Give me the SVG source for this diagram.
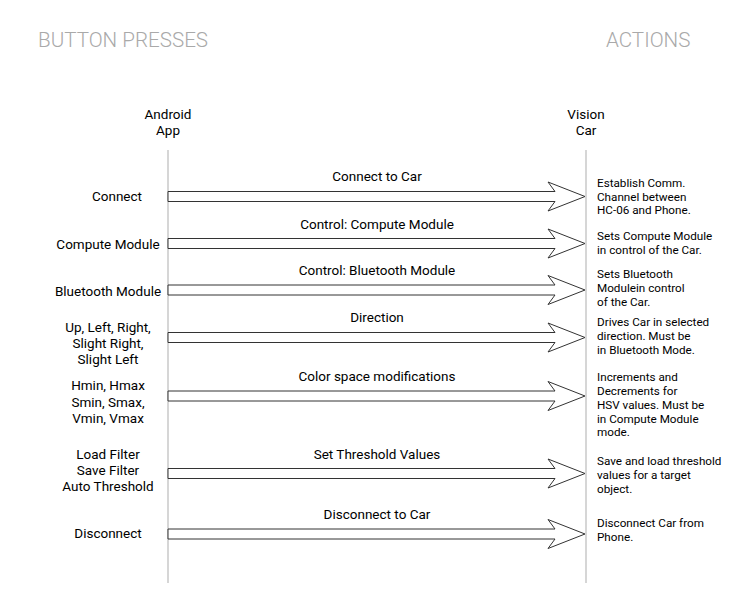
<svg xmlns="http://www.w3.org/2000/svg" width="754" height="599" viewBox="0 0 754 599">
<style>
.title{font-family:Roboto,"Liberation Sans",sans-serif;font-weight:300;font-size:20.6px;fill:#a9a9a9}
.hdr{font-family:Roboto,"Liberation Sans",sans-serif;font-size:13.5px;fill:#000;text-anchor:middle}
.lbl{font-family:Roboto,"Liberation Sans",sans-serif;font-size:13.5px;fill:#000;text-anchor:middle}
.act{font-family:Roboto,"Liberation Sans",sans-serif;font-size:11.7px;fill:#000}
.life{stroke:#cccccc;stroke-width:1.6;fill:none}
.arrow{fill:#ffffff;stroke:#333333;stroke-width:1}
</style>
<rect width="754" height="599" fill="#ffffff"/>
<g id="titles">
<text class="title" x="38" y="47">BUTTON PRESSES</text>
<text class="title" x="606" y="47">ACTIONS</text>
</g>
<g id="android-app">
<text class="hdr" x="168" y="119">Android</text>
<text class="hdr" x="168" y="135">App</text>
<line class="life" x1="168" y1="150" x2="168" y2="583"/>
</g>
<g id="vision-car">
<text class="hdr" x="586" y="119">Vision</text>
<text class="hdr" x="586" y="135">Car</text>
<line class="life" x1="586" y1="150" x2="586" y2="583"/>
</g>
<g id="buttons">
<text class="lbl" x="117" y="201">Connect</text>
<text class="lbl" x="108" y="249">Compute Module</text>
<text class="lbl" x="108" y="296">Bluetooth Module</text>
<text class="lbl" x="108" y="332">Up, Left, Right,</text>
<text class="lbl" x="108" y="348">Slight Right,</text>
<text class="lbl" x="108" y="364">Slight Left</text>
<text class="lbl" x="108" y="390">Hmin, Hmax</text>
<text class="lbl" x="108" y="406.5">Smin, Smax,</text>
<text class="lbl" x="108" y="422.5">Vmin, Vmax</text>
<text class="lbl" x="108" y="458.5">Load Filter</text>
<text class="lbl" x="108" y="474.5">Save Filter</text>
<text class="lbl" x="108" y="490.5">Auto Threshold</text>
<text class="lbl" x="108" y="538">Disconnect</text>
</g>
<g id="connectors">
<polygon class="arrow" points="168,191.5 555,191.5 548,182 585,196.5 548,211 555,201.5 168,201.5"/>
<text class="lbl" x="377" y="181">Connect to Car</text>
<polygon class="arrow" points="168,238.5 555,238.5 548,229 585,243.5 548,258 555,248.5 168,248.5"/>
<text class="lbl" x="377" y="228.5">Control: Compute Module</text>
<polygon class="arrow" points="168,285 555,285 548,275.5 585,290 548,304.5 555,295 168,295"/>
<text class="lbl" x="377" y="275">Control: Bluetooth Module</text>
<polygon class="arrow" points="168,332.5 555,332.5 548,323 585,337.5 548,352 555,342.5 168,342.5"/>
<text class="lbl" x="377" y="322">Direction</text>
<polygon class="arrow" points="168,391 555,391 548,381.5 585,396 548,410.5 555,401 168,401"/>
<text class="lbl" x="377" y="381">Color space modifications</text>
<polygon class="arrow" points="168,468.5 555,468.5 548,459 585,473.5 548,488 555,478.5 168,478.5"/>
<text class="lbl" x="377" y="458.5">Set Threshold Values</text>
<polygon class="arrow" points="168,529 555,529 548,519.5 585,534 548,548.5 555,539 168,539"/>
<text class="lbl" x="377" y="519">Disconnect to Car</text>
</g>
<g id="actions">
<text class="act" x="597" y="187">Establish Comm.</text>
<text class="act" x="597" y="200.5">Channel between</text>
<text class="act" x="597" y="214">HC-06 and Phone.</text>
<text class="act" x="597" y="240">Sets Compute Module</text>
<text class="act" x="597" y="254">in control of the Car.</text>
<text class="act" x="597" y="277.5">Sets Bluetooth</text>
<text class="act" x="597" y="291.5">Modulein control</text>
<text class="act" x="597" y="305.5">of the Car.</text>
<text class="act" x="597" y="325.5">Drives Car in selected</text>
<text class="act" x="597" y="339.5">direction. Must be</text>
<text class="act" x="597" y="353.5">in Bluetooth Mode.</text>
<text class="act" x="597" y="381">Increments and</text>
<text class="act" x="597" y="394.5">Decrements for</text>
<text class="act" x="597" y="408.5">HSV values. Must be</text>
<text class="act" x="597" y="422.5">in Compute Module</text>
<text class="act" x="597" y="436">mode.</text>
<text class="act" x="597" y="465">Save and load threshold</text>
<text class="act" x="597" y="479">values for a target</text>
<text class="act" x="597" y="493">object.</text>
<text class="act" x="597" y="527">Disconnect Car from</text>
<text class="act" x="597" y="541">Phone.</text>
</g>
</svg>
